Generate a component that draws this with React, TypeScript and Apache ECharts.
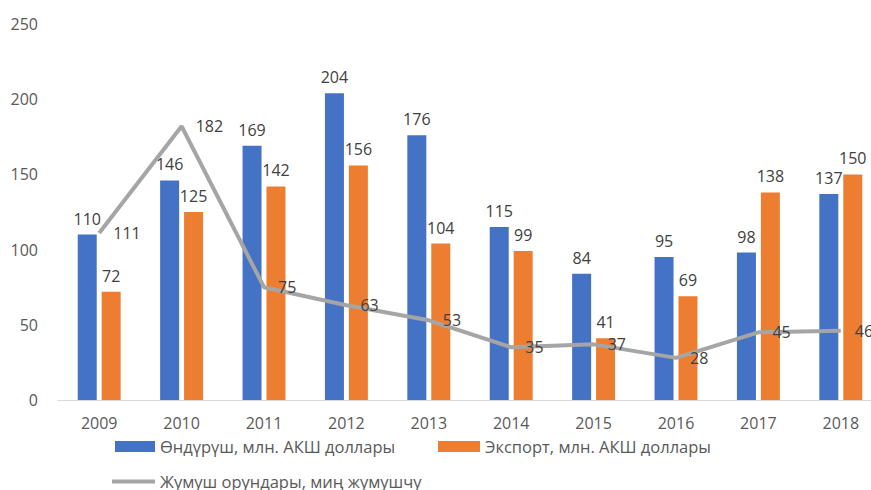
import React, { useEffect, useRef } from "react";
import * as echarts from "echarts";

const years = ["2009", "2010", "2011", "2012", "2013", "2014", "2015", "2016", "2017", "2018"];
const production = [110, 146, 169, 204, 176, 115, 84, 95, 98, 137];
const exportVals = [72, 125, 142, 156, 104, 99, 41, 69, 138, 150];
const jobs = [111, 182, 75, 63, 53, 35, 37, 28, 45, 46];
const seriesNames = [
  "Өндүрүш, млн. АКШ доллары",
  "Экспорт, млн. АКШ доллары",
  "Жумуш орундары, миң жумушчу",
];

const FONT = "'Open Sans', 'Noto Sans', sans-serif";

export default function App() {
  const ref = useRef<HTMLDivElement>(null);
  useEffect(() => {
    if (!ref.current) return;
    const chart = echarts.init(ref.current, undefined, { renderer: "svg" });
    const labelStyle = { color: "#404040", fontSize: 16, fontFamily: FONT };
    const legendText = { color: "#595959", fontSize: 16.5, fontFamily: FONT };
    chart.setOption({
      animation: false,
      backgroundColor: "#ffffff",
      textStyle: { fontFamily: FONT },
      grid: { left: 58, right: 8, top: 24, bottom: 90 },
      legend: [
        {
          data: [seriesNames[0]],
          left: 110,
          top: 433,
          itemWidth: 40,
          itemHeight: 11,
          icon: "rect",
          textStyle: legendText,
        },
        {
          data: [seriesNames[1]],
          left: 433,
          top: 433,
          itemWidth: 42,
          itemHeight: 11,
          icon: "rect",
          textStyle: legendText,
        },
        {
          data: [seriesNames[2]],
          left: 107,
          top: 468,
          itemWidth: 43,
          itemHeight: 4,
          icon: "rect",
          textStyle: legendText,
        },
      ],
      xAxis: {
        type: "category",
        data: years,
        axisLine: { lineStyle: { color: "#d9d9d9", width: 1 } },
        axisTick: { show: false },
        axisLabel: { color: "#595959", fontSize: 16, margin: 15, fontFamily: FONT },
      },
      yAxis: {
        type: "value",
        min: 0,
        max: 250,
        interval: 50,
        splitLine: { show: false },
        axisLine: { show: false },
        axisTick: { show: false },
        axisLabel: { color: "#595959", fontSize: 16, margin: 20, fontFamily: FONT },
      },
      series: [
        {
          name: seriesNames[0],
          type: "bar",
          data: production,
          barWidth: 19,
          barGap: "26%",
          itemStyle: { color: "#4472c4" },
          label: { show: true, position: "top", distance: 8, ...labelStyle },
        },
        {
          name: seriesNames[1],
          type: "bar",
          data: exportVals,
          barWidth: 19,
          itemStyle: { color: "#ed7d31" },
          label: { show: true, position: "top", distance: 8, ...labelStyle },
        },
        {
          name: seriesNames[2],
          type: "line",
          data: jobs,
          symbol: "circle",
          symbolSize: 0.1,
          showSymbol: true,
          lineStyle: { color: "#a5a5a5", width: 4 },
          itemStyle: { color: "#a5a5a5" },
          label: { show: true, position: "right", distance: 14, ...labelStyle },
          z: 5,
        },
      ],
    });
    return () => chart.dispose();
  }, []);
  return (
    <div style={{ position: "fixed", left: 0, top: 0, width: 871, height: 490, overflow: "hidden", background: "#fff" }}>
      <div ref={ref} style={{ width: 890, height: 490 }} />
    </div>
  );
}
